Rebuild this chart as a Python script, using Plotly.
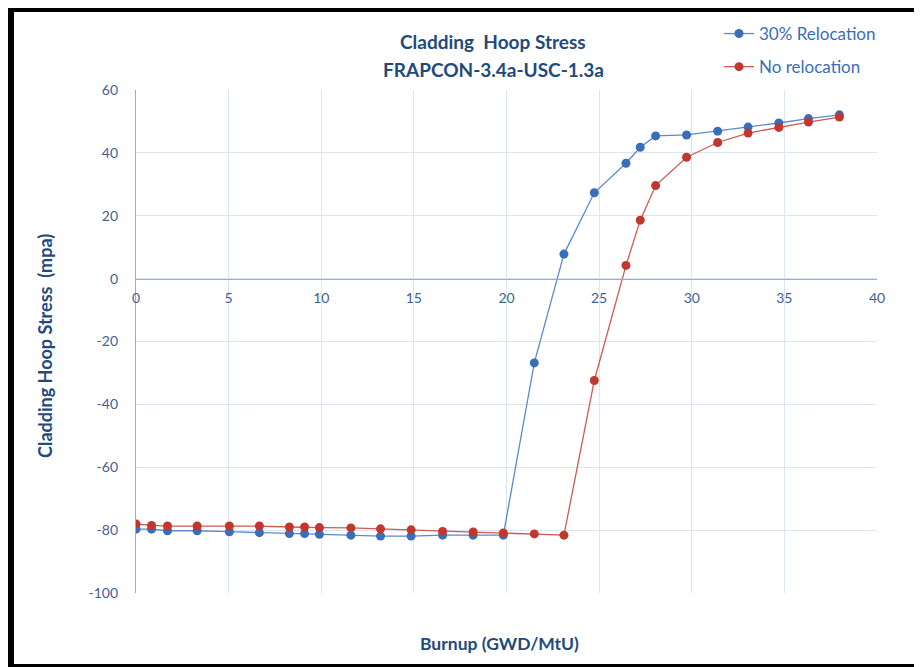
import plotly.graph_objects as go

burnup = [0, 0.84, 1.7, 3.3, 5.04, 6.66, 8.28, 9.1, 9.9, 11.6, 13.2, 14.85,
          16.55, 18.2, 19.83, 21.5, 23.1, 24.74, 26.45, 27.22, 28.05, 29.72,
          31.4, 33.04, 34.7, 36.3, 37.97]
relocation_30 = [-79.7, -79.7, -80.2, -80.2, -80.5, -80.8, -81.1, -81.1, -81.3,
                 -81.6, -81.9, -81.9, -81.6, -81.6, -81.6, -26.8, 7.8, 27.3,
                 36.7, 41.8, 45.4, 45.7, 46.9, 48.2, 49.5, 50.9, 52.1]
no_relocation = [-78.05, -78.5, -78.7, -78.7, -78.7, -78.7, -79.0, -79.0, -79.2,
                 -79.3, -79.6, -79.9, -80.4, -80.6, -80.9, -81.2, -81.6, -32.4,
                 4.2, 18.6, 29.6, 38.6, 43.3, 46.3, 48.1, 49.8, 51.4]
series_names = ["30% Relocation", "No relocation"]
x_ticks = [0, 5, 10, 15, 20, 25, 30, 35, 40]
y_ticks = [60, 40, 20, 0, -20, -40, -60, -80, -100]

FONT = "Lato"
BLUE = "#3A6EBA"
RED = "#C0372F"
TICK = "#44618F"
TITLE = "#1F4A7D"

# page has an 8px body margin: figure is placed at (8, 8)
OFF = 8
W, H = 922 - OFF, 667 - OFF
# plot area in page pixels
L, R, T, B = 136, 877, 90, 593


def px(xp):
    return (xp - L) / (R - L)


def py(yp):
    return (B - yp) / (B - T)


fig = go.Figure()
fig.add_trace(go.Scatter(
    x=burnup, y=relocation_30, name=series_names[0], mode="lines+markers",
    legendgroup="a",
    line=dict(color="#5B8BCB", width=1.3),
    marker=dict(color=BLUE, size=9, line=dict(width=0)),
))
fig.add_trace(go.Scatter(
    x=burnup, y=no_relocation, name=series_names[1], mode="lines+markers",
    legendgroup="b",
    line=dict(color="#CF5A52", width=1.3),
    marker=dict(color=RED, size=9, line=dict(width=0)),
))

fig.update_layout(
    width=W, height=H,
    margin=dict(l=L - OFF, r=W - (R - OFF), t=T - OFF, b=H - (B - OFF),
                autoexpand=False),
    paper_bgcolor="white", plot_bgcolor="white",
    font=dict(family=FONT, color=TICK, size=14),
    showlegend=True,
    legend=dict(
        xref="container", yref="container",
        x=(719 - OFF) / W, y=1 - (16 - OFF) / H, xanchor="left", yanchor="top",
        font=dict(family=FONT, size=17, color="#3A6EBA"),
        bgcolor="rgba(0,0,0,0)", tracegroupgap=8,
        itemwidth=30,
    ),
    xaxis=dict(
        range=[0, 40], tickvals=x_ticks, ticktext=[str(v) for v in x_ticks],
        showgrid=True, gridcolor="#DCE6F2", gridwidth=1.2,
        showline=True, linecolor="#8DB0DF", linewidth=1.3,
        anchor="free", position=0.625,
        ticks="", ticklabelstandoff=6,
        tickfont=dict(family=FONT, size=14, color=TICK),
        zeroline=False, mirror=False,
    ),
    yaxis=dict(
        range=[-100, 60], tickvals=y_ticks, ticktext=[str(v) for v in y_ticks],
        showgrid=True, gridcolor="#DCE6F2", gridwidth=1.2,
        showline=True, linecolor="#8DB0DF", linewidth=1.3,
        ticks="", ticklabelstandoff=14,
        tickfont=dict(family=FONT, size=14, color=TICK),
        zeroline=False,
    ),
)

ann = dict(xref="paper", yref="paper", showarrow=False,
           xanchor="center", yanchor="middle")
fig.add_annotation(text="<b>Cladding  Hoop Stress</b>", x=px(493), y=py(42),
                   font=dict(family=FONT, size=19, color=TITLE), **ann)
fig.add_annotation(text="<b>FRAPCON-3.4a-USC-1.3a</b>", x=px(493), y=py(69),
                   font=dict(family=FONT, size=19, color=TITLE), **ann)
fig.add_annotation(text="<b>Cladding Hoop Stress  (mpa)</b>", x=px(45), y=py(346),
                   textangle=-90, font=dict(family=FONT, size=18, color=TITLE), **ann)
fig.add_annotation(text="<b>Burnup (GWD/MtU)</b>", x=px(499), y=py(643),
                   font=dict(family=FONT, size=17.5, color=TITLE), **ann)

# black frame (page pixel coords)
fig.add_shape(type="rect", xref="paper", yref="paper",
              x0=px(OFF), x1=px(14), y0=py(667), y1=py(OFF),
              fillcolor="black", line=dict(width=0), layer="above")
fig.add_shape(type="rect", xref="paper", yref="paper",
              x0=px(OFF), x1=px(922), y0=py(12), y1=py(OFF),
              fillcolor="black", line=dict(width=0), layer="above")
fig.add_shape(type="rect", xref="paper", yref="paper",
              x0=px(OFF), x1=px(922), y0=py(667), y1=py(664),
              fillcolor="black", line=dict(width=0), layer="above")

fig.write_html("out.html")
